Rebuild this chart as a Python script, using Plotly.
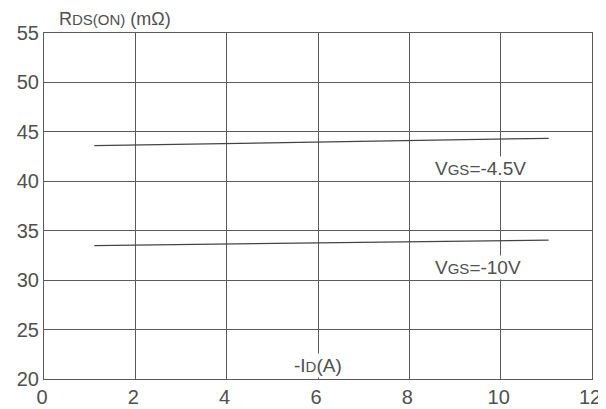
import plotly.graph_objects as go

# data
x_45 = [1.1, 3.0, 5.0, 7.0, 9.0, 11.05]
y_45 = [43.6, 43.75, 43.9, 44.05, 44.2, 44.35]
x_10 = [1.1, 3.0, 5.0, 7.0, 9.0, 11.05]
y_10 = [33.5, 33.6, 33.7, 33.8, 33.92, 34.04]
x_ticks = [0, 2, 4, 6, 8, 10, 12]
y_ticks = [20, 25, 30, 35, 40, 45, 50, 55]

FONT = "Liberation Sans, Arial, sans-serif"
TXT = "#505050"
GRID = "#5a5a5a"

fig = go.Figure()
fig.add_trace(go.Scatter(x=x_45, y=y_45, mode="lines",
                         line=dict(color="#444444", width=1.2), showlegend=False))
fig.add_trace(go.Scatter(x=x_10, y=y_10, mode="lines",
                         line=dict(color="#444444", width=1.2), showlegend=False))

sub = "<span style='font-size:15px'>{}</span>"
fig.add_annotation(x=9.55, y=41.3, text="V" + sub.format("GS") + "=-4.5V",
                   showarrow=False, bgcolor="white", font=dict(size=19, color=TXT, family=FONT))
fig.add_annotation(x=9.5, y=31.3, text="V" + sub.format("GS") + "=-10V",
                   showarrow=False, bgcolor="white", font=dict(size=19, color=TXT, family=FONT))
fig.add_annotation(x=6.0, y=21.4, text="-I" + sub.format("D") + "(A)",
                   showarrow=False, bgcolor="white", font=dict(size=19, color=TXT, family=FONT))
fig.add_annotation(xref="paper", yref="paper", x=0.1296, y=1.0, xanchor="center", yanchor="bottom",
                   yshift=2,
                   text="R" + sub.format("DS(ON)") + " (mΩ)",
                   showarrow=False, font=dict(size=18, color=TXT, family=FONT))

fig.update_xaxes(range=[0, 12], tickvals=x_ticks, showgrid=True, gridcolor=GRID, gridwidth=1,
                 showline=True, linecolor=GRID, linewidth=1, mirror=True, zeroline=False,
                 ticks="", automargin=False, ticklabelstandoff=0, ticklabelshift=-2,
                 tickfont=dict(size=20, color=TXT, family=FONT))
fig.update_yaxes(range=[20, 55], tickvals=y_ticks, showgrid=True, gridcolor=GRID, gridwidth=1,
                 showline=True, linecolor=GRID, linewidth=1, mirror=True, zeroline=False,
                 ticks="", automargin=False, ticklabelstandoff=0,
                 tickfont=dict(size=20, color=TXT, family=FONT))

# page body has an 8px margin, so size/margins are offset to land the plot area correctly
fig.update_layout(width=598, height=401, margin=dict(l=36, r=14, t=25, b=30),
                  plot_bgcolor="white", paper_bgcolor="white")
fig.write_html("out.html")
